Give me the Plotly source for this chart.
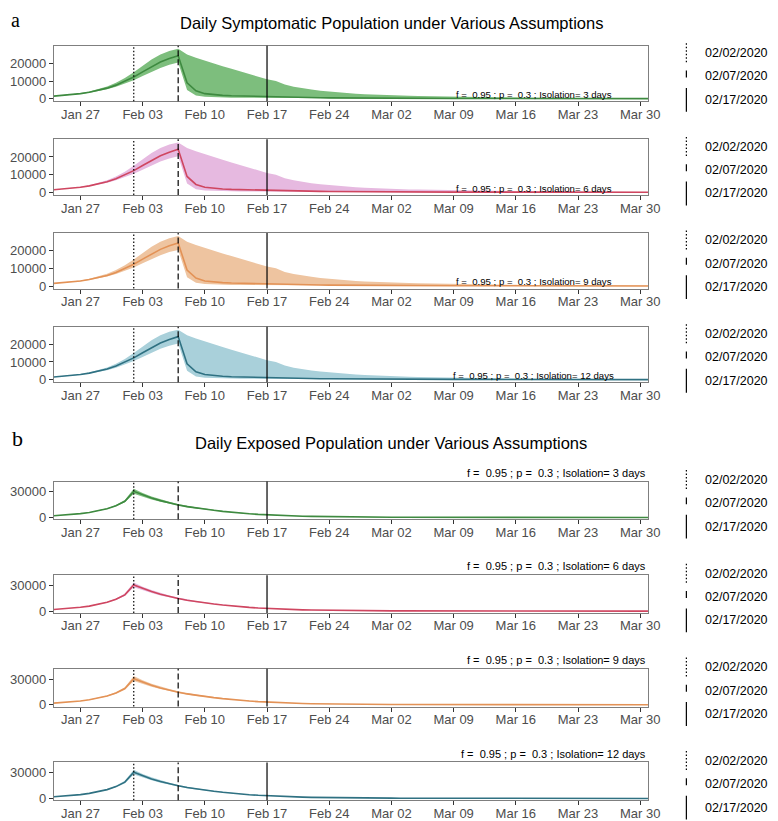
import pandas as pd
import plotly.graph_objects as go

# ---------------- data ----------------
START_DATE = "2020-01-24"
N_DAYS = 68  # Jan 24 .. Mar 31

# Daily symptomatic population (panel a) – median and ribbon bounds
SYM_MED = [1500, 1900, 2400, 2900, 3700, 4700, 6000, 7700, 9800, 12300,
           15200, 18100, 20700, 22700, 24300,
           9000, 4500, 2900, 2300, 1950, 1700, 1550, 1400, 1300, 1200,
           1100, 950, 820, 720, 640, 570, 510, 460, 420, 380, 350, 320, 300, 280,
           260, 245, 230, 215, 200, 190, 180, 170, 160, 150, 140, 135, 130, 125,
           120, 115, 110, 105, 100, 95, 90, 85, 80, 78, 75, 72, 70, 68, 65]
SYM_LO = [1450, 1800, 2250, 2750, 3450, 4300, 5400, 6800, 8500, 10500,
          12800, 15200, 17400, 19200, 20400,
          5000, 1800, 1100, 850, 720, 640, 580, 530, 490, 450,
          410, 360, 310, 270, 240, 210, 190, 170, 150, 135, 120, 110, 100, 90,
          85, 80, 75, 70, 65, 60, 56, 52, 48, 45, 42, 40, 38, 36, 34, 32, 30, 28,
          26, 25, 24, 23, 22, 21, 20, 19, 18, 17, 16]
SYM_HI = [1550, 2000, 2550, 3150, 4100, 5300, 6900, 9000, 11700, 15000,
          18700, 22200, 25000, 27000, 28200,
          25000, 23200, 21500, 19900, 18400, 16900, 15400, 14000, 12500, 11000,
          10000, 8000, 6800, 5900, 5200, 4600, 4100, 3650, 3250, 2900, 2600, 2350, 2150, 2000,
          1850, 1700, 1580, 1460, 1350, 1250, 1160, 1080, 1000, 930, 860, 800, 740, 690,
          640, 600, 560, 520, 490, 460, 430, 400, 380, 360, 340, 320, 300, 285, 270]

# Daily exposed population (panel b) – median and ribbon bounds
EXP_MED = [2000, 2600, 3400, 4500, 5900, 7800, 10300, 13800, 19000, 30500,
           26300, 22800, 19700, 17000, 14700, 12700, 11100,
           9800, 8400, 7200, 6100, 5200, 4400, 3700, 3100, 2600, 2200, 1850, 1550, 1300, 1100, 950,
           820, 700, 600, 520, 450, 390, 340,
           300, 260, 230, 200, 175, 155, 135, 120, 105, 92, 81, 71, 63, 56, 50,
           44, 39, 35, 31, 28, 25, 22, 20, 18, 16, 14, 13, 12, 11]
EXP_LO = [1950, 2520, 3280, 4320, 5650, 7450, 9800, 13000, 17700, 27800,
          24300, 21100, 18300, 15900, 13800, 11900, 10400,
          9200, 7900, 6800, 5750, 4900, 4150, 3500, 2920, 2450, 2070, 1740, 1450, 1220, 1030, 890,
          770, 660, 560, 485, 420, 365, 320,
          280, 243, 214, 186, 162, 144, 125, 111, 97, 85, 75, 66, 58, 52, 46,
          41, 36, 32, 29, 26, 23, 20, 18, 17, 15, 13, 12, 11, 10]
EXP_HI = [2050, 2690, 3540, 4700, 6180, 8200, 10850, 14700, 20500, 33500,
          28500, 24600, 21200, 18300, 15800, 13600, 11900,
          10500, 9000, 7700, 6550, 5600, 4750, 4000, 3350, 2800, 2370, 1990, 1670, 1400, 1190, 1020,
          880, 750, 645, 560, 485, 420, 365,
          320, 278, 246, 214, 188, 166, 145, 129, 113, 99, 87, 76, 68, 60, 54,
          47, 42, 38, 33, 30, 27, 24, 22, 19, 17, 15, 14, 13, 12]

for arr in (SYM_MED, SYM_LO, SYM_HI, EXP_MED, EXP_LO, EXP_HI):
    assert len(arr) == N_DAYS, len(arr)

ISOLATION_DAYS = [3, 6, 9, 12]
NB = "\u00a0"
SCENARIO_TEXT = "f =" + NB + NB + "0.95 ; p =" + NB + NB + "0.3 ; Isolation= {} days"
TITLE_A = "Daily Symptomatic Population under Various Assumptions"
TITLE_B = "Daily Exposed Population under Various Assumptions"

TICK_DATES = ["2020-01-27", "2020-02-03", "2020-02-10", "2020-02-17", "2020-02-24",
              "2020-03-02", "2020-03-09", "2020-03-16", "2020-03-23", "2020-03-30"]
TICK_TEXT = ["Jan 27", "Feb 03", "Feb 10", "Feb 17", "Feb 24",
             "Mar 02", "Mar 09", "Mar 16", "Mar 23", "Mar 30"]
Y_TICKS_A = [0, 10000, 20000]
Y_TICKS_B = [0, 30000]

VLINE_DATES = ["2020-02-02", "2020-02-07", "2020-02-17"]
VLINE_LABELS = ["02/02/2020", "02/07/2020", "02/17/2020"]

# ---------------- styles ----------------
W, H = 778, 821
LINE_COLORS = ["#3E8A40", "#CF4660", "#E39256", "#2F7182"]
FILL_COLORS = ["#7DBE7D", "#E6B9E0", "#EEC4A0", "#A9D0DA"]
DOT = "1.5px,2px"
VLINE_DASH = [DOT, "6px,3px", "solid"]
FONT = "Liberation Sans, Arial, sans-serif"
SERIF = "Liberation Serif, Times New Roman, serif"
TICK_FONT = dict(family=FONT, size=13, color="#4D4D4D")

X_RANGE = ["2020-01-24", "2020-03-30 21:00"]
Y_RANGE_A = [-1425, 29925]
Y_RANGE_B = [-2000, 42000]

XL, XR = 46.5, 650.0
SPACING = 94.33
LEG_STEP = 23.5


def py(v):
    return 1 - v / H


dates = pd.date_range(START_DATE, periods=N_DAYS, freq="D")

fig = go.Figure()
shapes = []
annotations = []

for i in range(8):
    n = i + 1
    panel_a = i < 4
    k = i % 4
    if panel_a:
        top = 38 + SPACING * k
        bot = top + 56
        lo, med, hi = SYM_LO, SYM_MED, SYM_HI
        yr, yt = Y_RANGE_A, Y_TICKS_A
    else:
        top = 477 + SPACING * k
        bot = top + 38
        lo, med, hi = EXP_LO, EXP_MED, EXP_HI
        yr, yt = Y_RANGE_B, Y_TICKS_B
    xa = "x" if n == 1 else f"x{n}"
    ya = "y" if n == 1 else f"y{n}"

    fig.add_trace(go.Scatter(x=dates, y=lo, xaxis=xa, yaxis=ya, mode="lines",
                             line=dict(width=0, color=FILL_COLORS[k]), showlegend=False,
                             hoverinfo="skip"))
    fig.add_trace(go.Scatter(x=dates, y=hi, xaxis=xa, yaxis=ya, mode="lines",
                             line=dict(width=0, color=FILL_COLORS[k]), fill="tonexty",
                             fillcolor=FILL_COLORS[k], showlegend=False, hoverinfo="skip"))
    fig.add_trace(go.Scatter(x=dates, y=med, xaxis=xa, yaxis=ya, mode="lines",
                             line=dict(width=1.6, color=LINE_COLORS[k]), showlegend=False))

    xkey = "xaxis" if n == 1 else f"xaxis{n}"
    ykey = "yaxis" if n == 1 else f"yaxis{n}"
    fig.layout[xkey] = dict(domain=[XL / W, XR / W], anchor=ya, type="date", range=X_RANGE,
                            tickmode="array", tickvals=TICK_DATES, ticktext=TICK_TEXT,
                            ticks="outside", ticklen=4, tickcolor="#333333", tickwidth=1,
                            ticklabelstandoff=-3,
                            tickfont=TICK_FONT, showline=True, mirror=True,
                            linecolor="#7F7F7F", linewidth=1, showgrid=False, zeroline=False)
    fig.layout[ykey] = dict(domain=[py(bot), py(top)], anchor=xa, range=yr,
                            tickmode="array", tickvals=yt, ticktext=[str(v) for v in yt],
                            ticks="outside", ticklen=4, tickcolor="#333333", tickwidth=1,
                            tickfont=TICK_FONT, showline=True, mirror=True,
                            linecolor="#7F7F7F", linewidth=1, showgrid=False, zeroline=False)

    # vertical reference lines
    for d, dash in zip(VLINE_DATES, VLINE_DASH):
        shapes.append(dict(type="line", xref=xa, yref=f"{ya} domain", x0=d, x1=d, y0=0, y1=1,
                           line=dict(color="black", width=1.2, dash=dash), layer="above"))

    # scenario text
    txt = SCENARIO_TEXT.format(ISOLATION_DAYS[k])
    if panel_a:
        annotations.append(dict(text=txt, xref="paper", yref="paper", x=534 / W, y=py(top + 49),
                                xanchor="center", yanchor="middle", showarrow=False,
                                font=dict(family=FONT, size=9.6, color="black")))
    else:
        annotations.append(dict(text=txt, xref="paper", yref="paper", x=XR / W, y=py(top - 9),
                                xanchor="right", yanchor="middle", showarrow=False,
                                font=dict(family=FONT, size=11, color="black")))

    # right-hand legend for the reference lines
    c = (top + bot) / 2 + 3
    labs_y = [c - LEG_STEP, c, c + LEG_STEP]
    lx = 689
    segs = [(labs_y[0] - 10, labs_y[0] + 10, DOT),
            (labs_y[1] - 6, labs_y[1] + 1, "solid"),
            (labs_y[2] - 12, labs_y[2] + 12, "solid")]
    for (y0, y1, dash) in segs:
        shapes.append(dict(type="line", xref="paper", yref="paper", x0=lx / W, x1=lx / W,
                           y0=py(y0), y1=py(y1), line=dict(color="black", width=1.2, dash=dash)))
    for j, lab in enumerate(VLINE_LABELS):
        annotations.append(dict(text=lab, xref="paper", yref="paper", x=706 / W, y=py(labs_y[j]),
                                xanchor="left", yanchor="middle", showarrow=False,
                                font=dict(family=FONT, size=12.5, color="black")))

# titles and panel letters
annotations.append(dict(text=TITLE_A, xref="paper", yref="paper", x=0.5, y=py(15),
                        xanchor="center", yanchor="middle", showarrow=False,
                        font=dict(family=FONT, size=16.5, color="black")))
annotations.append(dict(text=TITLE_B, xref="paper", yref="paper", x=0.5, y=py(438),
                        xanchor="center", yanchor="middle", showarrow=False,
                        font=dict(family=FONT, size=16.5, color="black")))
annotations.append(dict(text="a", xref="paper", yref="paper", x=8 / W, y=1.0,
                        xanchor="center", yanchor="top", showarrow=False, borderpad=0,
                        font=dict(family=SERIF, size=20, color="black")))
annotations.append(dict(text="b", xref="paper", yref="paper", x=10 / W, y=py(434),
                        xanchor="center", yanchor="middle", showarrow=False,
                        font=dict(family=SERIF, size=22, color="black")))

fig.update_layout(width=W, height=H, margin=dict(l=0, r=0, t=0, b=0),
                  paper_bgcolor="white", plot_bgcolor="white",
                  shapes=shapes, annotations=annotations, showlegend=False,
                  font=dict(family=FONT))

fig.write_html("out.html")
